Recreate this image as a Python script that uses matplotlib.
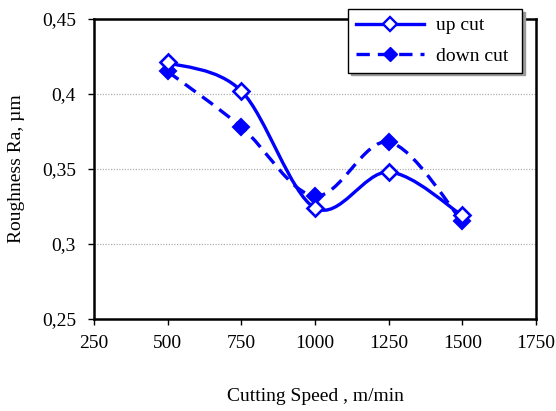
import matplotlib
matplotlib.use("Agg")
import matplotlib.pyplot as plt
from matplotlib.path import Path
from matplotlib.patches import PathPatch
from matplotlib.lines import Line2D
import numpy as np

speeds = [500, 750, 1000, 1250, 1500]
up_cut = [0.421, 0.402, 0.324, 0.348, 0.319]
down_cut = [0.415, 0.378, 0.332, 0.368, 0.315]
series_names = ["up cut", "down cut"]
x_ticks = [250, 500, 750, 1000, 1250, 1500, 1750]
y_ticks = [0.25, 0.30, 0.35, 0.40, 0.45]
y_tick_labels = ["0,25", "0,3", "0,35", "0,4", "0,45"]
x_label = "Cutting Speed , m/min"
y_label = "Roughness Ra, µm"

BLUE = "#0000ff"
plt.rcParams['font.family'] = ['Liberation Serif', 'DejaVu Serif']
FS = 14

fig = plt.figure(figsize=(5.56, 4.11), dpi=100)
ax = fig.add_axes([94/556, 1-319/411, 442/556, 300/411])


def smooth_path(xs, ys):
    pts = np.column_stack([xs, ys]).astype(float)
    n = len(pts)
    verts = [pts[0]]
    codes = [Path.MOVETO]
    for i in range(n - 1):
        p_prev = pts[i - 1] if i > 0 else pts[i]
        p_next2 = pts[i + 2] if i + 2 < n else pts[i + 1]
        c1 = pts[i] + (pts[i + 1] - p_prev) / 6.0
        c2 = pts[i + 1] - (p_next2 - pts[i]) / 6.0
        verts += [c1, c2, pts[i + 1]]
        codes += [Path.CURVE4] * 3
    return Path(verts, codes)

lw = 2.4
dash = (0, (4.0, 2.4))

ax.add_patch(PathPatch(smooth_path(speeds, up_cut), fill=False, edgecolor=BLUE,
                       lw=lw, zorder=3, capstyle='butt'))
ax.add_patch(PathPatch(smooth_path(speeds, down_cut), fill=False, edgecolor=BLUE,
                       lw=lw, linestyle=dash, zorder=3, capstyle='butt'))

ax.plot(speeds, down_cut, linestyle='none', marker='D', ms=8.5, mfc=BLUE,
        mec=BLUE, mew=1.5, zorder=4)
ax.plot(speeds, up_cut, linestyle='none', marker='D', ms=8.5, mfc='white',
        mec=BLUE, mew=1.9, zorder=5)

ax.set_xlim(250, 1750)
ax.set_ylim(0.25, 0.45)
ax.set_xticks(x_ticks)
ax.set_xticklabels([str(v) for v in x_ticks])
ax.set_yticks(y_ticks)
ax.set_yticklabels(y_tick_labels)
ax.tick_params(direction='out', length=4.5, width=1, labelsize=FS, colors='black')
ax.tick_params(axis='x', pad=7)
ax.tick_params(axis='y', pad=8.5)
for s in ax.spines.values():
    s.set_linewidth(1.8)
    s.set_color('black')

for yv in y_ticks[1:-1]:
    ax.axhline(yv, color='#b0b0b0', lw=0.9, ls=(0, (1, 1.2)), zorder=1)

ax.set_xlabel(x_label, fontsize=FS, labelpad=26)
ax.set_ylabel(y_label, fontsize=FS, labelpad=12)

handles = [
    Line2D([], [], color=BLUE, lw=lw, marker='D', ms=7, mfc='white', mec=BLUE, mew=1.7),
    Line2D([], [], color=BLUE, lw=lw, ls=dash, marker='D', ms=7, mfc=BLUE, mec=BLUE),
]
leg = ax.legend(handles, series_names, loc='upper left',
                bbox_to_anchor=(0.575, 0.807, 0.393, 0.226), mode='expand',
                fontsize=FS, frameon=True, fancybox=False,
                shadow={'color': '#9a9a9a', 'ox': 2, 'oy': -2, 'alpha': 1},
                edgecolor='black', framealpha=1, handlelength=3.5,
                handletextpad=0.6, labelspacing=0.65, borderpad=0.4,
                numpoints=1, borderaxespad=0)
leg.get_frame().set_linewidth(1.0)

fig.savefig("out.png", dpi=100)
